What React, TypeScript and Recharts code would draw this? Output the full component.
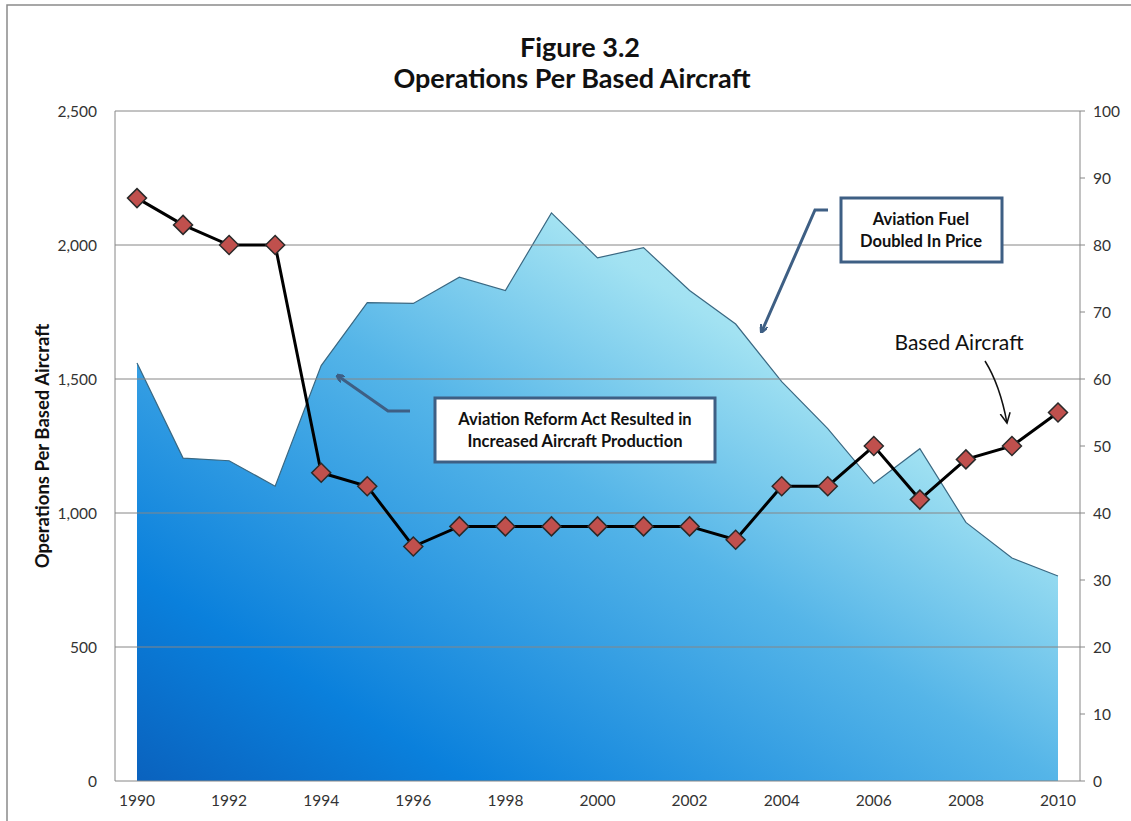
import { ComposedChart, Area, Line, XAxis, YAxis, ReferenceLine } from 'recharts';

const years = ['1990', '1991', '1992', '1993', '1994', '1995', '1996', '1997', '1998', '1999', '2000',
  '2001', '2002', '2003', '2004', '2005', '2006', '2007', '2008', '2009', '2010'];

// operations per based aircraft (left axis)
const opsPerAircraft = [1560, 1205, 1195, 1100, 1550, 1785, 1782, 1880, 1830, 2120, 1952,
  1990, 1830, 1705, 1490, 1315, 1110, 1240, 965, 832, 765];

// based aircraft (right axis)
const basedAircraft = [87, 83, 80, 80, 46, 44, 35, 38, 38, 38, 38, 38, 38, 36, 44, 44, 50, 42, 48, 50, 55];

const leftTicks = [0, 500, 1000, 1500, 2000, 2500];
const rightTicks = [0, 10, 20, 30, 40, 50, 60, 70, 80, 90, 100];
const gridValues = [500, 1000, 1500, 2000, 2500];

const FONT = 'Lato, "Open Sans", sans-serif';

const data = years.map((year, i) => ({ year, ops: opsPerAircraft[i], based: basedAircraft[i] }));

function Diamond(props: any) {
  const { cx, cy } = props;
  if (cx == null || cy == null) return null;
  const r = 9.5;
  return (
    <polygon
      points={`${cx},${cy - r} ${cx + r},${cy} ${cx},${cy + r} ${cx - r},${cy}`}
      fill="#c0504d"
      stroke="#2a2a2a"
      strokeWidth={1.5}
    />
  );
}

function Overlay() {
  return (
    <svg width={1131} height={821} style={{ position: 'absolute', left: 0, top: 0, pointerEvents: 'none' }}>
      <defs>
        <marker id="blueHead" markerWidth="8" markerHeight="8" refX="6" refY="4" orient="auto" markerUnits="userSpaceOnUse">
          <path d="M0,0 L8,4 L0,8" fill="none" stroke="#3e5f84" strokeWidth={2.5} />
        </marker>
        <marker id="blackHead" markerWidth="12" markerHeight="12" refX="10" refY="6" orient="auto" markerUnits="userSpaceOnUse">
          <path d="M0,1 L10,6 L0,11" fill="none" stroke="#111" strokeWidth={1.5} />
        </marker>
      </defs>
      <polyline points="7,821 7,5 1131,5" fill="none" stroke="#8a8a8a" strokeWidth={1.5} />
      <text x={580} y={57} textAnchor="middle" fontFamily={FONT} fontWeight="bold" fontSize={27} fill="#111">Figure 3.2</text>
      <text x={572} y={88} textAnchor="middle" fontFamily={FONT} fontWeight="bold" fontSize={27} fill="#111">Operations Per Based Aircraft</text>

      <polyline points="410,411 388,411 338,376" fill="none" stroke="#3e5f84" strokeWidth={3} markerEnd="url(#blueHead)" />
      <rect x={435} y={398} width={280} height={64} fill="#fff" stroke="#3e5f84" strokeWidth={3} />
      <text x={575} y={425} textAnchor="middle" fontFamily={FONT} fontWeight="bold" fontSize={16.5} fill="#111">Aviation Reform Act Resulted in</text>
      <text x={575} y={447} textAnchor="middle" fontFamily={FONT} fontWeight="bold" fontSize={16.5} fill="#111">Increased Aircraft Production</text>

      <polyline points="828,210 815,210 762,331" fill="none" stroke="#3e5f84" strokeWidth={3} markerEnd="url(#blueHead)" />
      <rect x={841} y={198} width={161} height={64} fill="#fff" stroke="#3e5f84" strokeWidth={3} />
      <text x={921} y={225} textAnchor="middle" fontFamily={FONT} fontWeight="bold" fontSize={16.5} fill="#111">Aviation Fuel</text>
      <text x={921} y={247} textAnchor="middle" fontFamily={FONT} fontWeight="bold" fontSize={16.5} fill="#111">Doubled In Price</text>

      <text x={959} y={350} textAnchor="middle" fontFamily={FONT} fontSize={21} fill="#111">Based Aircraft</text>
      <path d="M985,361 Q1000,385 1007,423" fill="none" stroke="#111" strokeWidth={1.5} markerEnd="url(#blackHead)" />
    </svg>
  );
}

export default function App() {
  return (
    <div style={{ position: 'absolute', left: 0, top: 0, width: 1131, height: 821, background: '#fff' }}>
      <ComposedChart width={1131} height={821} data={data} margin={{ top: 111, right: 0, bottom: 10, left: 0 }}>
        <defs>
          <linearGradient id="opsFill" x1="0" y1="1" x2="1" y2="0">
            <stop offset="0%" stopColor="#0a62be" />
            <stop offset="18%" stopColor="#0a80dc" />
            <stop offset="50%" stopColor="#55b5e8" />
            <stop offset="72%" stopColor="#a2e2f2" />
            <stop offset="100%" stopColor="#c8f4f8" />
          </linearGradient>
        </defs>
        <XAxis
          dataKey="year"
          interval={1}
          padding={{ left: 22, right: 22 }}
          tickLine={false}
          tickSize={0}
          tickMargin={14}
          height={30}
          axisLine={{ stroke: '#868686' }}
          tick={{ fontSize: 15.5, fill: '#333', fontFamily: FONT }}
        />
        <YAxis
          yAxisId="ops"
          domain={[0, 2500]}
          ticks={leftTicks}
          width={115}
          tickLine={false}
          tickSize={0}
          tickMargin={18}
          axisLine={{ stroke: '#868686' }}
          tick={{ fontSize: 15.5, fill: '#333', fontFamily: FONT }}
          tickFormatter={(v: number) => v.toLocaleString('en-US')}
          label={{
            value: 'Operations Per Based Aircraft',
            angle: -90,
            position: 'insideLeft',
            offset: 42,
            style: { textAnchor: 'middle', fontWeight: 'bold', fontSize: 18.5, fill: '#111', fontFamily: FONT },
          }}
        />
        <YAxis
          yAxisId="based"
          orientation="right"
          domain={[0, 100]}
          ticks={rightTicks}
          width={51}
          tickSize={5}
          tickMargin={8}
          tickLine={{ stroke: '#868686' }}
          axisLine={{ stroke: '#868686' }}
          tick={{ fontSize: 15.5, fill: '#333', fontFamily: FONT }}
        />
        <Area
          yAxisId="ops"
          dataKey="ops"
          type="linear"
          fill="url(#opsFill)"
          fillOpacity={1}
          stroke="#3a6882"
          strokeWidth={1.2}
          isAnimationActive={false}
        />
        {gridValues.map((v) => (
          <ReferenceLine key={v} yAxisId="ops" y={v} stroke="#868686" strokeWidth={1} />
        ))}
        <Line
          yAxisId="based"
          dataKey="based"
          type="linear"
          stroke="#000"
          strokeWidth={3}
          dot={<Diamond />}
          activeDot={false}
          isAnimationActive={false}
        />
      </ComposedChart>
      <Overlay />
    </div>
  );
}
